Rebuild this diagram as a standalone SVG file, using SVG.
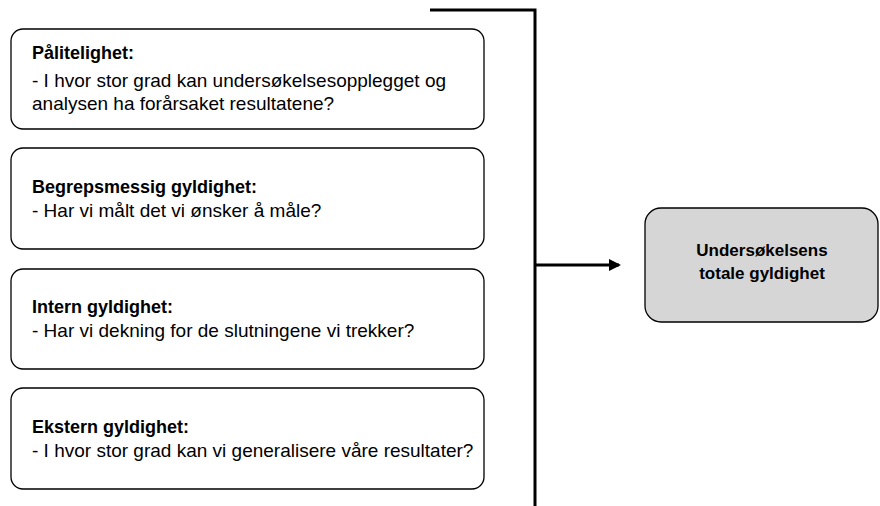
<svg xmlns="http://www.w3.org/2000/svg" width="880" height="506" viewBox="0 0 880 506">
<defs>
<style>
.box{fill:#ffffff;stroke:#000;stroke-width:1.3}
.tbox{fill:#d6d6d6;stroke:#000;stroke-width:1.3}
text{font-family:"Liberation Sans",Arial,sans-serif;font-size:19px;fill:#000}
.b{font-weight:bold;font-size:18px}
.c{font-weight:bold;font-size:17px}
.conn{fill:none;stroke:#000;stroke-width:3}
</style>
<marker id="arr" markerWidth="12" markerHeight="12" refX="10" refY="6" orient="auto" markerUnits="userSpaceOnUse" viewBox="0 0 12 12">
<path d="M0,0 L12,6 L0,12 z" fill="#000"/>
</marker>
</defs>
<rect width="880" height="506" fill="#fff"/>
<g id="connectors">
<path class="conn" d="M430,10 H535 V506"/>
<path class="conn" d="M535,265 H619" marker-end="url(#arr)"/>
</g>
<g id="palitelighet">
<rect class="box" x="11" y="29" width="473" height="100" rx="12"/>
<text x="32" y="59" class="b">Pålitelighet:</text>
<text x="32" y="87">- I hvor stor grad kan undersøkelsesopplegget og</text>
<text x="32" y="110">analysen ha forårsaket resultatene?</text>
</g>
<g id="begrepsmessig">
<rect class="box" x="11" y="148" width="473" height="101" rx="12"/>
<text x="32" y="193" class="b">Begrepsmessig gyldighet:</text>
<text x="32" y="217">- Har vi målt det vi ønsker å måle?</text>
</g>
<g id="intern">
<rect class="box" x="11" y="269" width="473" height="100" rx="12"/>
<text x="32" y="313" class="b">Intern gyldighet:</text>
<text x="32" y="337">- Har vi dekning for de slutningene vi trekker?</text>
</g>
<g id="ekstern">
<rect class="box" x="11" y="388" width="473" height="101" rx="12"/>
<text x="32" y="433" class="b">Ekstern gyldighet:</text>
<text x="32" y="457">- I hvor stor grad kan vi generalisere våre resultater?</text>
</g>
<g id="total">
<rect class="tbox" x="645" y="208" width="233" height="114" rx="16"/>
<text x="762" y="256" class="c" text-anchor="middle">Undersøkelsens</text>
<text x="762" y="279" class="c" text-anchor="middle">totale gyldighet</text>
</g>
</svg>
